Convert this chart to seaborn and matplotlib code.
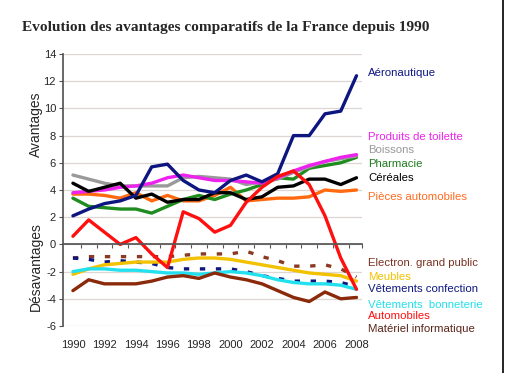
import numpy as np
import pandas as pd
import matplotlib
matplotlib.use("Agg")
import matplotlib.pyplot as plt
import matplotlib.lines as mlines
import seaborn as sns

years = list(range(1990, 2009))

# Avantages
aeronautique = [2.1, 2.6, 3.0, 3.2, 3.6, 5.7, 5.9, 4.7, 4.0, 3.8, 4.7, 5.1, 4.6, 5.2, 8.0, 8.0, 9.6, 9.8, 12.4]
produits_toilette = [3.8, 3.9, 4.0, 4.2, 4.3, 4.5, 4.9, 5.1, 4.9, 4.7, 4.7, 4.6, 4.5, 4.9, 5.4, 5.8, 6.1, 6.4, 6.6]
boissons = [5.1, 4.8, 4.5, 4.3, 4.3, 4.3, 4.3, 4.9, 5.0, 4.9, 4.8, 4.4, 4.6, 4.8, 5.3, 5.7, 6.1, 6.3, 6.5]
pharmacie = [3.4, 2.8, 2.7, 2.6, 2.6, 2.3, 2.8, 3.3, 3.6, 3.3, 3.7, 4.0, 4.4, 4.9, 4.8, 5.6, 5.8, 6.0, 6.4]
cereales = [4.5, 3.9, 4.2, 4.5, 3.4, 3.7, 3.1, 3.3, 3.3, 3.8, 3.8, 3.3, 3.5, 4.2, 4.3, 4.8, 4.8, 4.4, 4.9]
pieces_auto = [3.7, 3.7, 3.6, 3.4, 3.8, 3.2, 3.6, 3.2, 3.2, 3.6, 4.2, 3.2, 3.3, 3.4, 3.4, 3.5, 4.0, 3.9, 4.0]
automobiles = [0.6, 1.8, 0.9, 0.0, 0.5, -0.7, -1.7, 2.4, 1.9, 0.9, 1.4, 3.1, 4.2, 5.0, 5.4, 4.4, 2.1, -1.0, -3.3]

# Désavantages
electron = [-1.0, -0.9, -0.9, -0.9, -0.9, -0.9, -0.9, -0.8, -0.7, -0.7, -0.7, -0.5, -0.9, -1.2, -1.6, -1.6, -1.5, -1.8, -2.4]
meubles = [-2.2, -1.8, -1.5, -1.4, -1.3, -1.3, -1.3, -1.1, -1.0, -1.0, -1.1, -1.3, -1.5, -1.7, -1.9, -2.1, -2.2, -2.3, -2.7]
vet_confection = [-1.0, -1.1, -1.3, -1.2, -1.3, -1.4, -1.7, -1.8, -1.8, -1.8, -1.8, -2.0, -2.3, -2.5, -2.7, -2.7, -2.7, -2.8, -3.1]
vet_bonneterie = [-2.0, -1.8, -1.8, -1.9, -1.9, -2.0, -2.1, -2.1, -2.2, -2.1, -2.0, -2.1, -2.3, -2.6, -2.8, -2.9, -2.9, -3.0, -3.3]
materiel_info = [-3.4, -2.6, -2.9, -2.9, -2.9, -2.7, -2.4, -2.3, -2.5, -2.1, -2.4, -2.6, -2.9, -3.4, -3.9, -4.2, -3.5, -4.0, -3.9]

# label text, series, line colour, text colour, dashed, label y position
series = [
    ("Electron. grand public", electron, "#8b3a22", "#7a3322", True, -1.35),
    ("Vêtements confection", vet_confection, "#0d1680", "#0d1680", True, -3.3),
    ("Meubles", meubles, "#f2c200", "#f2c200", False, -2.37),
    ("Vêtements  bonneterie", vet_bonneterie, "#22e0ee", "#22e0ee", False, -4.47),
    ("Matériel informatique", materiel_info, "#8a2a0a", "#5a2418", False, -6.2),
    ("Pièces automobiles", pieces_auto, "#ff6a10", "#ff6a20", False, 3.5),
    ("Pharmacie", pharmacie, "#1e8c1e", "#1e7a1e", False, 5.9),
    ("Boissons", boissons, "#999999", "#999999", False, 6.95),
    ("Produits de toilette", produits_toilette, "#ee22ee", "#ee22ee", False, 7.9),
    ("Céréales", cereales, "#000000", "#000000", False, 4.9),
    ("Aéronautique", aeronautique, "#0d1680", "#0d1680", False, 12.6),
    ("Automobiles", automobiles, "#ff1010", "#ff1010", False, -5.3),
]

sns.set_theme(style="white")
plt.rcParams.update({
    "font.family": ["Liberation Sans", "DejaVu Sans"],
    "figure.facecolor": "white",
    "axes.facecolor": "white",
    "axes.unicode_minus": False,
})

fig = plt.figure(figsize=(5.05, 3.73), dpi=100)
ax = fig.add_axes([63 / 505, 1 - 326 / 373, (362 - 63) / 505, (326 - 54) / 373])

for label, vals, color, tcolor, dashed, ly in series:
    df = pd.DataFrame({"year": years, "value": vals})
    ls = (0, (1.6, 3.2)) if dashed else "-"
    sns.lineplot(data=df, x="year", y="value", color=color, linewidth=2.4,
                 linestyle=ls, ax=ax, legend=False)
    ax.text(2008.75, ly, label, color=tcolor, fontsize=8.2, va="center",
            ha="left", clip_on=False)

ax.set_xlim(1989.37, 2008.35)
ax.set_ylim(-6, 14)
ax.set_yticks(range(-6, 15, 2))
ax.yaxis.grid(True, color="#ddd6d2", linewidth=0.9)
ax.set_axisbelow(True)
ax.tick_params(axis="y", labelsize=8, length=3, direction="out", left=True,
               width=0.8, color="#555555", pad=2)

# category axis crossing at zero, ticks between years
ax.spines["bottom"].set_position(("data", 0))
ax.spines["bottom"].set_color("#555555")
ax.spines["left"].set_color("#555555")
ax.spines["top"].set_visible(False)
ax.spines["right"].set_visible(False)
ax.set_xticks([y + 0.5 for y in years[:-1]] + [2008.35])
ax.tick_params(axis="x", bottom=True, length=3, direction="out", labelbottom=False,
               color="#555555", width=0.8)

sec = ax.secondary_xaxis(location=0.0)
sec.set_xticks(years[::2])
sec.set_xticklabels([str(y) for y in years[::2]])
sec.tick_params(axis="x", length=0, labelsize=8, pad=10)
sec.spines["bottom"].set_visible(False)

ax.set_xlabel("")
ax.set_ylabel("")
ax.text(-0.09, 8.8, "Avantages", rotation=90, fontsize=10, va="center", ha="center",
        transform=ax.get_yaxis_transform())
ax.text(-0.09, -1.6, "Désavantages", rotation=90, fontsize=10, va="center", ha="center",
        transform=ax.get_yaxis_transform())

fig.text(22 / 505, 1 - 27 / 373, "Evolution des avantages comparatifs de la France depuis 1990",
         fontsize=11.1, fontweight="bold", family=["Liberation Serif", "DejaVu Serif"],
         va="center", ha="left")

fig.add_artist(mlines.Line2D([0.997, 0.997], [0, 1], color="black", linewidth=1.2,
                             transform=fig.transFigure))

fig.savefig("out.png", dpi=100, facecolor="white")
plt.close(fig)
